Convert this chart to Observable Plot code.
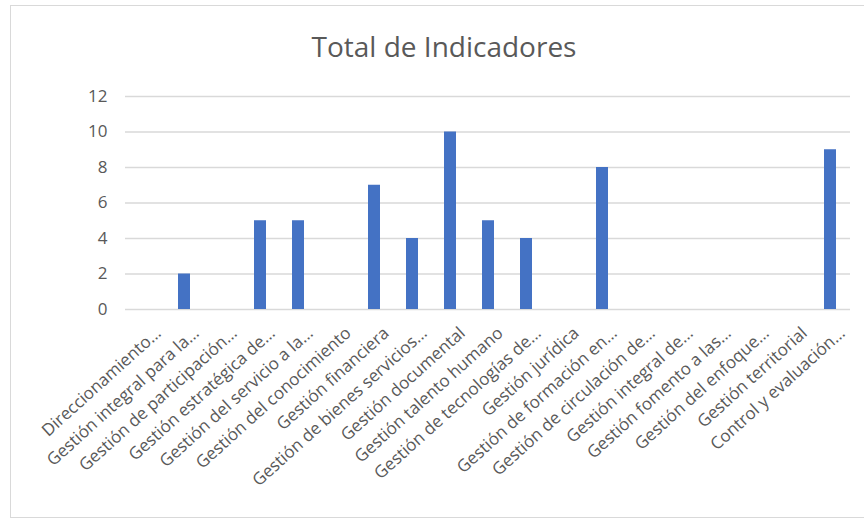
<!DOCTYPE html>
<html>
<head>
<meta charset="utf-8">
<script src="https://cdn.jsdelivr.net/npm/d3@7"></script>
<script src="https://cdn.jsdelivr.net/npm/@observablehq/plot@0.6"></script>
<style>
  html, body { margin: 0; padding: 0; background: #fff; overflow: hidden; }
  #wrap { position: relative; width: 864px; height: 520px; overflow: hidden; font-family: "Open Sans", sans-serif; }
  #frame { position: absolute; left: 10px; top: 5px; width: 1000px; height: 513px; border: 1.5px solid #d9d9d9; box-sizing: border-box; }
  #title { position: absolute; left: 0; width: 888px; top: 27px; text-align: center; font-size: 28px; line-height: normal; color: #595959; }
  #chart { position: absolute; left: 0; top: 0; }
</style>
</head>
<body>
<div id="wrap">
  <div id="frame"></div>
  <div id="title">Total de Indicadores</div>
  <div id="chart"></div>
</div>
<script>
const categories = [
  "Direccionamiento…",
  "Gestión integral para la…",
  "Gestión de participación…",
  "Gestión estratégica de…",
  "Gestión del servicio a la…",
  "Gestión del conocimiento",
  "Gestión financiera",
  "Gestión de bienes servicios…",
  "Gestión documental",
  "Gestión talento humano",
  "Gestión de tecnologías de…",
  "Gestión jurídica",
  "Gestión de formación en…",
  "Gestión de circulación de…",
  "Gestión integral de…",
  "Gestión fomento a las…",
  "Gestión del enfoque…",
  "Gestión territorial",
  "Control y evaluación…"
];
const values = [0, 2, 0, 5, 5, 0, 7, 4, 10, 5, 4, 0, 8, 0, 0, 0, 0, 0, 9];
const yTicks = [0, 2, 4, 6, 8, 10, 12];

const data = categories.map((c, i) => ({category: c, value: values[i]}));

const chart = Plot.plot({
  width: 864,
  height: 520,
  marginLeft: 125,
  marginRight: 14,
  marginTop: 96,
  marginBottom: 211,
  style: {fontFamily: "Open Sans, sans-serif", fontSize: "17px", color: "#595959", background: "transparent", overflow: "visible"},
  x: {domain: categories, paddingInner: 0.69, paddingOuter: 0.345, label: null},
  y: {domain: [0, 12], ticks: yTicks, label: null},
  marks: [
    Plot.gridY(yTicks, {stroke: "#d9d9d9", strokeOpacity: 1, strokeWidth: 1.5}),
    Plot.axisY(yTicks, {tickSize: 0, tickPadding: 18, fontSize: 17, label: null}),
    Plot.axisX({tickSize: 0, tickRotate: -42, tickPadding: 21, dx: 12, fontSize: 17, label: null}),
    Plot.barY(data, {x: "category", y: "value", fill: "#4472c4"})
  ]
});
document.getElementById("chart").appendChild(chart);
</script>
</body>
</html>
